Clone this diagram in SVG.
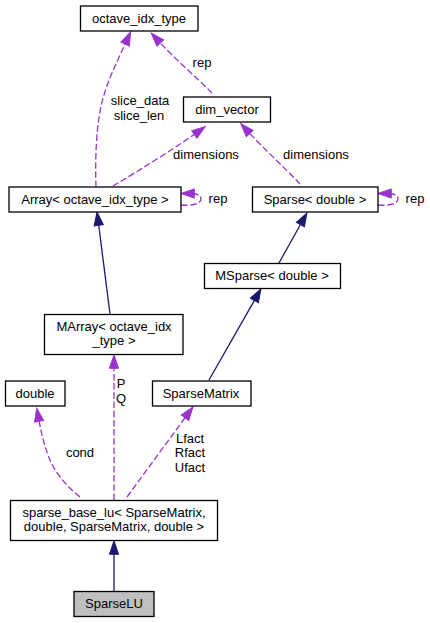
<svg xmlns="http://www.w3.org/2000/svg" width="430" height="623" viewBox="0 0 430 623">
<style>
.box{fill:#fff;stroke:#000;stroke-width:1.3}
.cur{fill:#bfbfbf;stroke:#000;stroke-width:1.3}
text{font-family:"Liberation Sans",Arial,sans-serif;font-size:13px;fill:#000}
.c{text-anchor:middle}
.inh{fill:none;stroke:#191970;stroke-width:1.3}
.use{fill:none;stroke:#9a32cd;stroke-width:1.3;stroke-dasharray:6.5,2.7}
</style>
<defs>
<marker id="an" markerUnits="userSpaceOnUse" markerWidth="16" markerHeight="12" viewBox="-1 -6 16 12" refX="3.3" refY="0" orient="auto"><path d="M0,-4.6 L13.3,0 L0,4.6 z" fill="#191970" stroke="#191970"/></marker>
<marker id="ap" markerUnits="userSpaceOnUse" markerWidth="16" markerHeight="12" viewBox="-1 -6 16 12" refX="3.3" refY="0" orient="auto"><path d="M0,-4.6 L13.3,0 L0,4.6 z" fill="#9a32cd" stroke="#9a32cd"/></marker>
</defs>
<g id="edges">
<path class="inh" d="M114,591 L114,551" marker-end="url(#an)"/>
<path class="use" d="M80,497 C65,485 53,470 48,455 C44,444 41,432 38.5,418" marker-end="url(#ap)"/>
<path class="use" d="M114,500 L114,365" marker-end="url(#ap)"/>
<path class="use" d="M127,497 L187,415" marker-end="url(#ap)"/>
<path class="inh" d="M209,380 L256,297.6" marker-end="url(#an)"/>
<path class="inh" d="M279,263 L302,221.7" marker-end="url(#an)"/>
<path class="inh" d="M110,314 L98.3,222" marker-end="url(#an)"/>
<path class="use" d="M96,187 C95,160 96,120 104,95 C110,75 118,60 126.5,41" marker-end="url(#ap)"/>
<path class="use" d="M113,186 C140,170 175,148 197,132.5" marker-end="url(#ap)"/>
<path class="use" d="M300,184 C285,168 263,148 247.5,131" marker-end="url(#ap)"/>
<path class="use" d="M212,93 C197,78 175,59 158,40.5" marker-end="url(#ap)"/>
<path class="use" d="M181,205 C191,206 201,204 201,199 C201,195 197,193.5 191,193.5" marker-end="url(#ap)"/>
<path class="use" d="M378,205 C388,206 398,204 398,199 C398,195 394,193.5 388,193.5" marker-end="url(#ap)"/>
<text class="c" x="80" y="457">cond</text>
<text class="c" x="121" y="388">P</text>
<text class="c" x="121" y="403">Q</text>
<text class="c" x="190" y="443">Lfact</text>
<text class="c" x="190" y="457">Rfact</text>
<text class="c" x="190" y="472">Ufact</text>
<text class="c" x="140" y="105">slice_data</text>
<text class="c" x="139" y="120">slice_len</text>
<text class="c" x="206" y="159">dimensions</text>
<text class="c" x="316" y="159">dimensions</text>
<text class="c" x="202" y="67">rep</text>
<text class="c" x="218" y="203">rep</text>
<text class="c" x="415" y="203">rep</text>
</g>
<g id="SparseLU"><rect class="cur" x="74" y="591.5" width="80" height="25"/><text class="c" x="114" y="608">SparseLU</text></g>
<g id="sparse_base_lu"><rect class="box" x="10.5" y="500.5" width="207" height="40"/><text class="c" x="114" y="517">sparse_base_lu&lt; SparseMatrix,</text><text class="c" x="114" y="531">double, SparseMatrix, double &gt;</text></g>
<g id="double"><rect class="box" x="5.5" y="381" width="59.5" height="25"/><text class="c" x="35" y="397.5">double</text></g>
<g id="MArray"><rect class="box" x="44.5" y="314.5" width="138.5" height="40"/><text class="c" x="114" y="330.5">MArray&lt; octave_idx</text><text class="c" x="114" y="345">_type &gt;</text></g>
<g id="SparseMatrix"><rect class="box" x="152.5" y="381" width="98.5" height="25"/><text class="c" x="201" y="397.5">SparseMatrix</text></g>
<g id="MSparse"><rect class="box" x="204.5" y="263.5" width="136" height="25"/><text class="c" x="272" y="279.5">MSparse&lt; double &gt;</text></g>
<g id="Array"><rect class="box" x="9" y="187" width="172" height="25"/><text class="c" x="95" y="203.5">Array&lt; octave_idx_type &gt;</text></g>
<g id="Sparse"><rect class="box" x="252.5" y="187" width="125.5" height="25"/><text class="c" x="315" y="203.5">Sparse&lt; double &gt;</text></g>
<g id="dim_vector"><rect class="box" x="183.5" y="97" width="87" height="25"/><text class="c" x="227" y="113.5">dim_vector</text></g>
<g id="octave_idx_type"><rect class="box" x="80.5" y="6" width="117.5" height="25"/><text class="c" x="139" y="22.5">octave_idx_type</text></g>
</svg>
